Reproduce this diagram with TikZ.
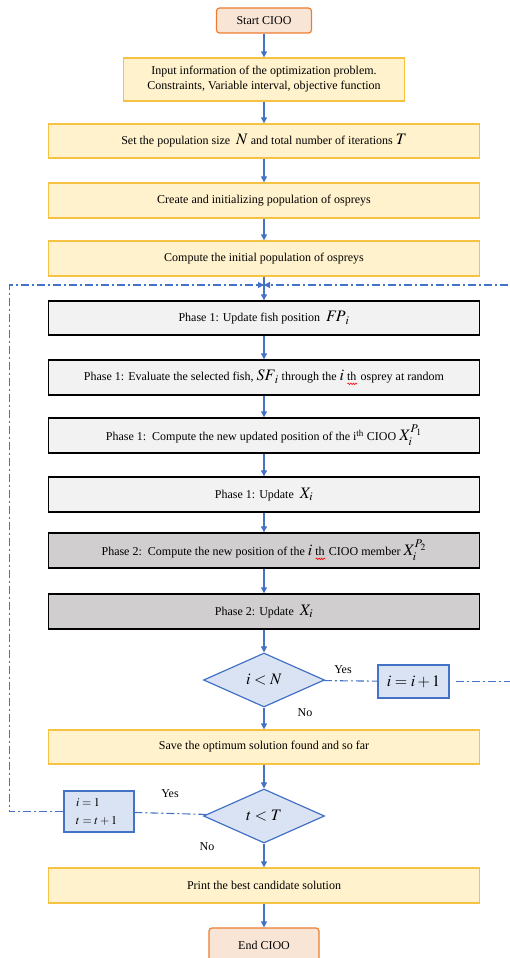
\documentclass[tikz,border=0pt]{standalone}
\usepackage{mathptmx}
\usepackage{fontspec}
\setmainfont{Liberation Serif}
\usepackage{tikz}
\usetikzlibrary{shapes.geometric, arrows.meta, decorations.pathmorphing}
\definecolor{startfill}{RGB}{248, 229, 214}
\definecolor{startline}{RGB}{237, 125, 49}
\definecolor{stepfill}{RGB}{255, 242, 204}
\definecolor{stepline}{RGB}{246, 194, 67}
\definecolor{phaseonefill}{RGB}{242, 242, 242}
\definecolor{phasetwofill}{RGB}{208, 206, 206}
\definecolor{checkfill}{RGB}{218, 227, 243}
\definecolor{flowink}{RGB}{68, 114, 196}
\newcommand\redwave[1]{\rlap{#1}\tikz[baseline=0pt]\draw[red, fill=none, line width=0.6pt, dash pattern=on 1pt off 0pt, decorate, decoration={snake, amplitude=0.8pt, segment length=2.6pt}] (0pt,-3pt) -- (10pt,-3pt);}
\newcommand\mth[1]{{\fontsize{16}{18}\selectfont$#1$}}

\begin{document}
\begin{tikzpicture}[x=1pt, y=-1pt, font=\fontsize{12}{15}\selectfont,
  startstop/.style={draw=startline, fill=startfill, line width=1.2pt, rounded corners=3pt, minimum width=95pt, minimum height=25pt},
  stepbox/.style={draw=stepline, fill=stepfill, line width=1.3pt, minimum width=431pt, minimum height=35pt},
  phaseone/.style={draw=black, fill=phaseonefill, line width=1.4pt, minimum width=431pt, minimum height=35pt},
  phasetwo/.style={phaseone, fill=phasetwofill},
  check/.style={diamond, aspect=2.24, draw=flowink, fill=checkfill, line width=1.2pt, minimum width=121pt, minimum height=54pt, inner sep=0pt},
  counter/.style={draw=flowink, fill=checkfill, line width=1.2pt},
  flow/.style={flowink, line width=1.1pt, -{Triangle[length=6pt, width=6pt]}},
  loopback/.style={flowink, line width=1.1pt, dash pattern=on 8pt off 3pt on 2pt off 3pt}]
  \useasboundingbox (0,0) rectangle (509,958);
  \node[startstop] (start) at (264,20.5) {Start CIOO};
  \node[stepbox, minimum width=281pt, minimum height=43pt, align=center] (input) at (264,79.5) {Input information of the optimization problem.\\ Constraints, Variable interval, objective function};
  \node[stepbox, minimum height=34pt] (size) at (264,141) {Set the population size \ \mth{N} and total number of iterations \mth{T}};
  \node[stepbox] (create) at (264,200.5) {Create and initializing population of ospreys};
  \node[stepbox] (init) at (264,258.5) {Compute the initial population of ospreys};
  \coordinate (merge) at (264,285);
  \node[phaseone, minimum height=34pt] (fish) at (264,318) {Phase 1: Update fish position \ \mth{\mathit{FP}_i}};
  \node[phaseone] (select) at (264,377.5) {Phase 1: Evaluate the selected fish, \mth{\mathit{SF}_i} through the \mth{i} \redwave{th} osprey at random};
  \node[phaseone] (newpos) at (264,435.5) {Phase 1:\ \ Compute the new updated position of the i\textsuperscript{th} CIOO \mth{X_i^{P_1}}};
  \node[phaseone] (updone) at (264,494.5) {Phase 1: Update \ \mth{X_i}};
  \node[phasetwo] (member) at (264,550.5) {Phase 2:\ \ Compute the new position of the \mth{i} \redwave{th} CIOO member \mth{X_i^{P_2}}};
  \node[phasetwo] (updtwo) at (264,611.5) {Phase 2: Update \ \mth{X_i}};
  \node[check] (icheck) at (264,680) {\mth{i<N}};
  \node[counter, minimum width=71pt, minimum height=33pt] (inext) at (413.5,681.5) {\mth{i=i+1}};
  \node[stepbox, minimum height=34pt] (save) at (264,747) {Save the optimum solution found and so far};
  \node[check] (tcheck) at (264,816) {\mth{t<T}};
  \node[counter, minimum width=70pt, minimum height=41pt, text width=46pt, align=left, font=\fontsize{12}{18}\selectfont] (reset) at (99,811.5) {$i=1$\\ $t=t+1$};
  \node[stepbox] (best) at (264,885.5) {Print the best candidate solution};
  \node[startstop, minimum width=110pt, minimum height=34pt] (finish) at (264,945) {End CIOO};
  \node (yesi) at (343,670) {Yes};
  \node (noi) at (305,713) {No};
  \node (yest) at (170,794) {Yes};
  \node (not) at (207,847) {No};
  \draw[flow] (start) -- (input);
  \draw[flow] (input) -- (size);
  \draw[flow] (size) -- (create);
  \draw[flow] (create) -- (init);
  \draw[flow] (init) -- (fish);
  \draw[flow] (fish) -- (select);
  \draw[flow] (select) -- (newpos);
  \draw[flow] (newpos) -- (updone);
  \draw[flow] (updone) -- (member);
  \draw[flow] (member) -- (updtwo);
  \draw[flow] (updtwo) -- (icheck);
  \draw[flow] (icheck) -- (save);
  \draw[flow] (save) -- (tcheck);
  \draw[flow] (tcheck) -- (best);
  \draw[flow] (best) -- (finish);
  \draw[loopback] (icheck) -- (inext);
  \draw[loopback, -{Triangle[length=6pt, width=6pt]}] ([xshift=6pt]inext.east) -- ++(60,0) |- (merge);
  \draw[loopback] (tcheck) -- (reset);
  \draw[loopback, -{Triangle[length=6pt, width=6pt]}] (reset.west) -- ++(-54,0) |- (merge);
\end{tikzpicture}
\end{document}
